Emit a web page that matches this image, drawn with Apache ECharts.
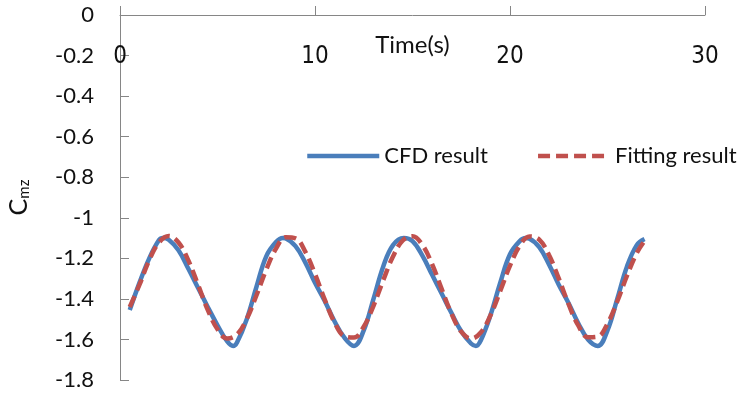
<!DOCTYPE html>
<html>
<head>
<meta charset="utf-8">
<script src="https://cdn.jsdelivr.net/npm/echarts@6/dist/echarts.min.js"></script>
<style>
  html, body { margin: 0; padding: 0; background: #fff; }
  #chart { width: 751px; height: 398px; }
</style>
</head>
<body>
<div id="chart"></div>
<script>
// values
const cfdTime = [0.5, 1.0, 1.5, 2.0, 2.2, 2.5, 3.0, 3.5, 4.0, 4.5, 5.0, 5.5, 5.8,
  6.0, 6.5, 7.0, 7.5, 8.0, 8.35, 8.5, 9.0, 9.5, 10.0, 10.5, 11.0, 11.5, 12.0,
  12.5, 13.0, 13.5, 14.0, 14.55, 15.0, 15.5, 16.0, 16.5, 17.0, 17.5, 18.0, 18.25,
  18.5, 19.0, 19.5, 20.0, 20.5, 20.8, 21.0, 21.5, 22.0, 22.5, 23.0, 23.5, 24.0, 24.5,
  25.0, 25.5, 26.0, 26.5, 26.9];
const cfdValue = [-1.455, -1.32, -1.20, -1.11, -1.100, -1.108, -1.16, -1.25, -1.345, -1.44, -1.53, -1.61, -1.632,
  -1.615, -1.50, -1.34, -1.19, -1.12, -1.100, -1.102, -1.14, -1.22, -1.32, -1.41, -1.51, -1.59, -1.632,
  -1.555, -1.40, -1.24, -1.135, -1.100, -1.115, -1.185, -1.28, -1.375, -1.47, -1.56, -1.62, -1.632,
  -1.605, -1.48, -1.32, -1.18, -1.115, -1.100, -1.103, -1.145, -1.23, -1.33, -1.42, -1.52, -1.60, -1.632,
  -1.555, -1.40, -1.24, -1.135, -1.105];

const fitTime = [0.5, 1.0, 1.5, 2.0, 2.5, 3.0, 3.5, 4.0, 4.5, 5.0, 5.5, 6.0, 6.5, 7.0,
  7.5, 8.0, 8.5, 9.0, 9.5, 10.0, 10.5, 11.0, 11.5, 12.0, 12.5, 13.0, 13.5, 14.0,
  14.5, 15.0, 15.5, 16.0, 16.5, 17.0, 17.5, 18.0, 18.5, 19.0, 19.5, 20.0, 20.5, 21.0,
  21.5, 22.0, 22.5, 23.0, 23.5, 24.0, 24.5, 25.0, 25.5, 26.0, 26.5, 26.9];
const fitValue = [-1.44, -1.330, -1.209, -1.122, -1.090, -1.122, -1.209, -1.330, -1.454, -1.550, -1.595, -1.576, -1.499, -1.382,
  -1.256, -1.152, -1.096, -1.101, -1.167, -1.277, -1.404, -1.516, -1.584, -1.591, -1.537, -1.434, -1.308, -1.191,
  -1.112, -1.091, -1.133, -1.228, -1.352, -1.473, -1.562, -1.596, -1.566, -1.481, -1.361, -1.236, -1.138, -1.092,
  -1.108, -1.184, -1.299, -1.425, -1.531, -1.589, -1.586, -1.522, -1.413, -1.286, -1.174, -1.114];

const AXIS_COLOR = '#868686';
const TEXT_COLOR = '#111';
const FONT = 'Lato';

const myChart = echarts.init(document.getElementById('chart'));

myChart.setOption({
  animation: false,
  backgroundColor: '#fff',
  grid: {
    left: 120,
    right: 46,
    top: 15,
    bottom: 18,
    containLabel: false,
    outerBoundsMode: 'none'
  },
  legend: {
    data: ['CFD result', 'Fitting result'],
    left: 300,
    top: 140,
    itemWidth: 72,
    itemHeight: 14,
    itemGap: 48,
    itemStyle: { opacity: 0 },
    lineStyle: { width: 4.5 },
    textStyle: {
      fontFamily: FONT,
      fontSize: 22,
      color: TEXT_COLOR
    }
  },
  xAxis: {
    type: 'value',
    position: 'top',
    min: 0,
    max: 30,
    interval: 10,
    name: 'Time(s)',
    nameLocation: 'middle',
    nameGap: -42,
    nameMoveOverlap: false,
    nameTextStyle: {
      fontFamily: FONT,
      fontSize: 24,
      color: TEXT_COLOR
    },
    axisLine: {
      onZero: false,
      lineStyle: { color: AXIS_COLOR, width: 1 }
    },
    axisTick: {
      inside: false,
      length: 9,
      lineStyle: { color: AXIS_COLOR }
    },
    axisLabel: {
      inside: true,
      margin: 30,
      fontFamily: '"Liberation Sans Narrow", "DejaVu Sans Condensed", sans-serif',
      fontSize: 24,
      color: TEXT_COLOR
    },
    splitLine: { show: false }
  },
  yAxis: {
    type: 'value',
    min: -1.8,
    max: 0,
    interval: 0.2,
    name: '{c|C}{s|mz}',
    nameLocation: 'middle',
    nameGap: 86,
    nameRotate: 90,
    nameMoveOverlap: false,
    nameTextStyle: {
      color: TEXT_COLOR,
      rich: {
        c: { fontFamily: FONT, fontSize: 25, color: TEXT_COLOR, lineHeight: 30 },
        s: { fontFamily: FONT, fontSize: 15, color: TEXT_COLOR, lineHeight: 30, padding: [10, 0, 0, 0] }
      }
    },
    axisLine: {
      show: true,
      lineStyle: { color: AXIS_COLOR, width: 1 }
    },
    axisTick: {
      show: true,
      inside: true,
      length: 9,
      lineStyle: { color: AXIS_COLOR }
    },
    axisLabel: {
      margin: 26,
      fontFamily: FONT,
      fontSize: 22,
      color: TEXT_COLOR,
      formatter: function (v) {
        return String(Math.round(v * 10) / 10);
      }
    },
    splitLine: { show: false }
  },
  series: [
    {
      name: 'CFD result',
      type: 'line',
      symbol: 'none',
      smooth: 0.4,
      color: '#4A7EBB',
      lineStyle: { color: '#4A7EBB', width: 4.5 },
      data: cfdTime.map((t, i) => [t, cfdValue[i]])
    },
    {
      name: 'Fitting result',
      type: 'line',
      symbol: 'none',
      smooth: 0.4,
      color: '#C0504D',
      lineStyle: { color: '#C0504D', width: 4.5, type: [12, 6] },
      data: fitTime.map((t, i) => [t, fitValue[i]])
    }
  ]
});
</script>
</body>
</html>
